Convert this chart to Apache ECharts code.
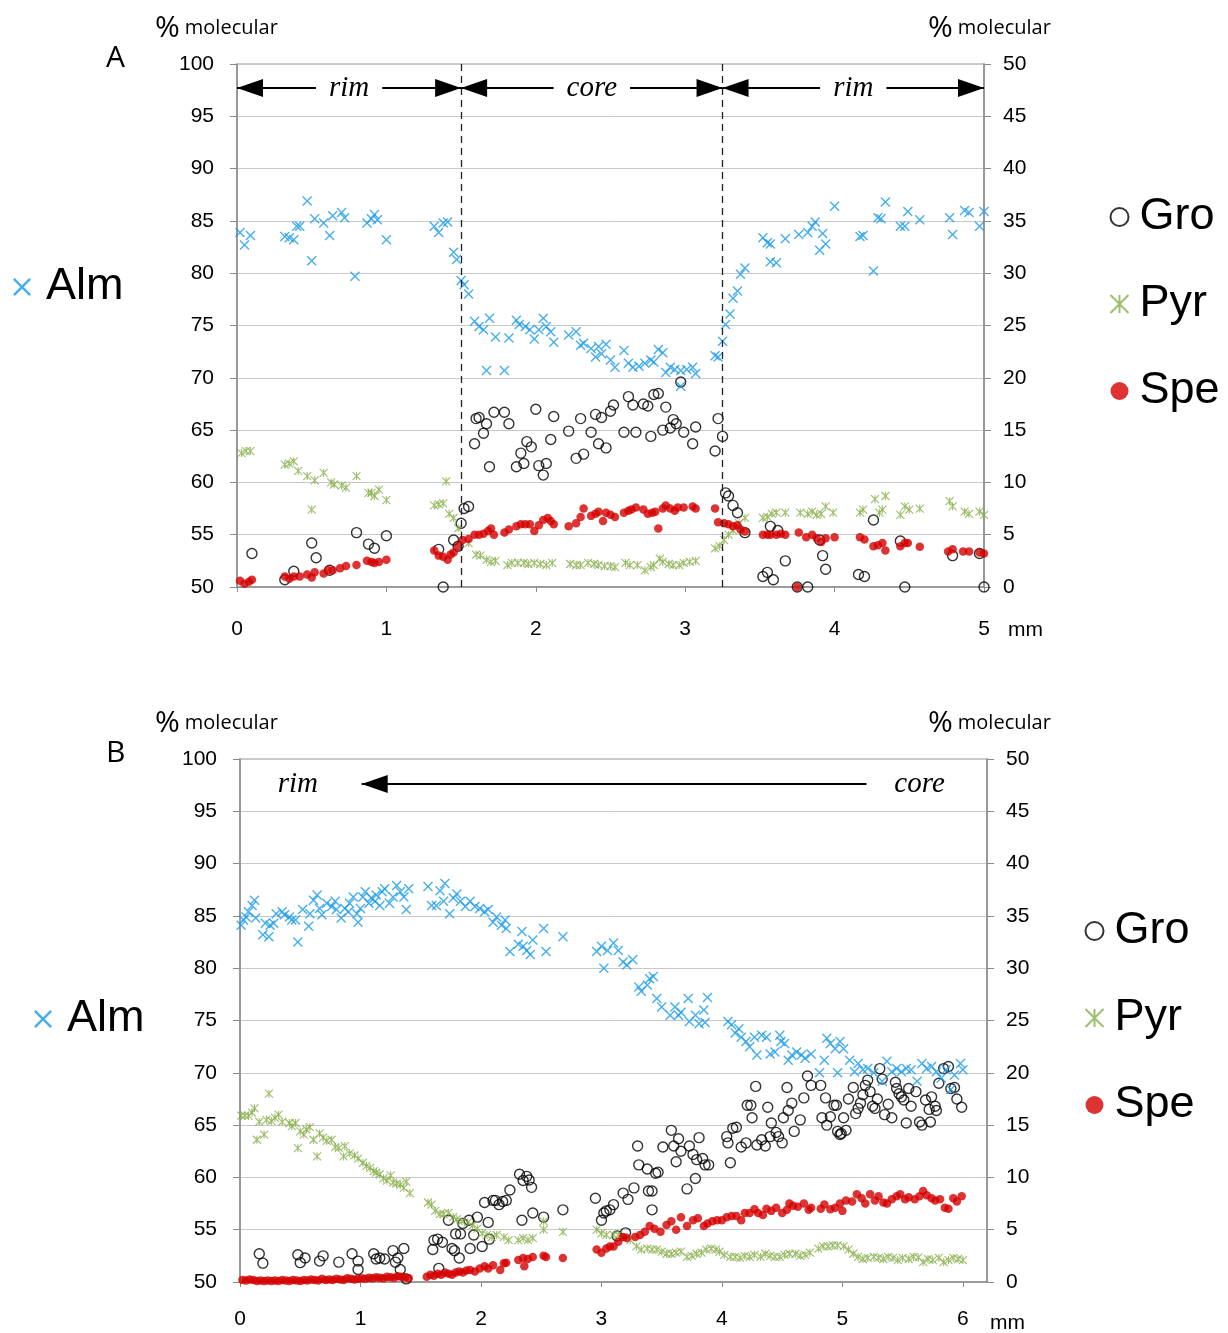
<!DOCTYPE html>
<html>
<head>
<meta charset="utf-8">
<script src="https://cdn.jsdelivr.net/npm/echarts@6/dist/echarts.min.js"></script>
<style>html,body{margin:0;padding:0;background:#fff}#c{width:1228px;height:1333px}</style>
</head>
<body>
<div id="c"></div>
<script>
// ---------- DATA (x in mm; Alm on left axis %, Gro/Pyr/Spe on right axis %) ----------
const xTicksA = [0, 1, 2, 3, 4, 5];
const xTicksB = [0, 1, 2, 3, 4, 5, 6];
const zoneBoundsA = [1.5, 3.25];

const almA = [[0.02,83.9],[0.05,82.7],[0.09,83.6],[0.32,83.5],[0.35,83.4],[0.38,83.2],[0.40,84.5],[0.42,84.5],[0.47,86.9],[0.50,81.2],[0.52,85.2],[0.58,84.8],[0.62,83.6],[0.64,85.5],[0.70,85.8],[0.72,85.3],[0.79,79.7],[0.87,84.8],[0.90,85.2],[0.92,85.6],[0.94,85.1],[1.00,83.2],[1.32,84.5],[1.35,83.9],[1.38,84.8],[1.41,84.9],[1.45,82.0],[1.47,81.3],[1.50,79.3],[1.52,78.9],[1.55,78.0],[1.59,75.4],[1.62,74.9],[1.65,74.6],[1.67,70.7],[1.69,75.7],[1.73,73.9],[1.79,70.7],[1.82,73.8],[1.87,75.5],[1.89,75.1],[1.93,74.9],[1.96,74.6],[1.99,73.7],[2.02,74.6],[2.05,75.7],[2.07,74.9],[2.10,74.4],[2.12,73.4],[2.22,74.1],[2.27,74.4],[2.30,73.1],[2.32,73.3],[2.37,72.8],[2.40,72.0],[2.42,73.0],[2.44,72.3],[2.47,73.2],[2.50,71.7],[2.53,71.0],[2.59,72.6],[2.62,71.4],[2.65,71.0],[2.69,71.1],[2.73,71.4],[2.77,71.7],[2.79,71.5],[2.82,72.7],[2.85,72.4],[2.87,70.5],[2.90,71.0],[2.93,70.8],[2.97,70.7],[2.97,69.2],[3.01,70.8],[3.05,71.0],[3.07,70.4],[3.20,72.1],[3.22,72.0],[3.25,73.5],[3.27,75.1],[3.30,76.1],[3.32,77.6],[3.35,78.3],[3.37,79.9],[3.40,80.5],[3.52,83.4],[3.55,82.9],[3.57,82.8],[3.57,81.1],[3.61,81.0],[3.67,83.3],[3.76,83.7],[3.82,83.9],[3.85,84.5],[3.87,84.9],[3.90,82.2],[3.92,83.8],[3.94,82.8],[4.00,86.4],[4.17,83.5],[4.19,83.6],[4.26,80.2],[4.29,85.3],[4.31,85.2],[4.34,86.8],[4.44,84.5],[4.47,84.5],[4.49,85.9],[4.57,85.1],[4.77,85.3],[4.79,83.7],[4.87,86.0],[4.90,85.8],[4.97,84.5],[5.00,85.9]];

const groA = [[0.10,3.2],[0.32,0.7],[0.38,1.5],[0.50,4.2],[0.53,2.8],[0.62,1.6],[0.80,5.2],[0.88,4.1],[0.92,3.7],[1.00,4.9],[1.35,3.6],[1.38,0.0],[1.45,4.5],[1.48,3.9],[1.50,6.1],[1.52,7.5],[1.55,7.7],[1.59,13.7],[1.60,16.1],[1.62,16.2],[1.65,14.7],[1.67,15.6],[1.69,11.5],[1.72,16.7],[1.79,16.7],[1.82,15.6],[1.87,11.5],[1.90,12.8],[1.92,11.8],[1.94,13.9],[1.97,13.4],[2.00,17.0],[2.02,11.6],[2.05,10.7],[2.07,11.8],[2.10,14.1],[2.12,16.3],[2.22,14.9],[2.27,12.3],[2.30,16.1],[2.32,12.7],[2.37,14.8],[2.40,16.5],[2.42,13.7],[2.44,16.2],[2.47,13.3],[2.50,16.8],[2.52,17.4],[2.59,14.8],[2.62,18.2],[2.65,17.4],[2.67,14.8],[2.72,17.5],[2.75,17.3],[2.77,14.4],[2.79,18.4],[2.82,18.5],[2.85,15.0],[2.87,17.2],[2.90,15.2],[2.92,16.0],[2.94,15.6],[2.97,19.6],[2.99,14.8],[3.05,13.7],[3.07,15.3],[3.20,13.0],[3.22,16.1],[3.25,14.4],[3.27,9.0],[3.29,8.7],[3.32,7.8],[3.35,7.1],[3.40,5.2],[3.52,1.0],[3.55,1.4],[3.57,5.8],[3.59,0.7],[3.62,5.4],[3.67,2.5],[3.75,0.0],[3.82,0.0],[3.90,4.5],[3.92,3.0],[3.94,1.7],[4.16,1.2],[4.20,1.0],[4.26,6.4],[4.44,4.4],[4.47,0.0],[4.79,3.0],[4.97,3.2],[5.00,0.0]];

const pyrA = [[0.03,12.8],[0.06,13.0],[0.09,13.0],[0.32,11.7],[0.35,11.8],[0.38,12.0],[0.41,11.1],[0.47,10.6],[0.50,7.4],[0.52,10.2],[0.58,10.9],[0.63,10.0],[0.65,9.8],[0.70,9.7],[0.73,9.5],[0.80,10.6],[0.88,9.0],[0.90,9.0],[0.92,8.7],[0.95,9.3],[1.00,8.3],[1.32,7.8],[1.35,7.9],[1.38,8.0],[1.40,10.1],[1.42,7.0],[1.45,6.6],[1.48,5.6],[1.55,4.2],[1.60,3.1],[1.63,3.0],[1.67,2.6],[1.70,2.4],[1.73,2.5],[1.81,2.1],[1.84,2.3],[1.88,2.3],[1.92,2.3],[1.95,2.2],[1.99,2.3],[2.03,2.2],[2.07,2.1],[2.11,2.3],[2.23,2.2],[2.27,2.1],[2.30,2.1],[2.35,2.3],[2.39,2.2],[2.42,2.1],[2.46,2.0],[2.50,2.0],[2.53,1.9],[2.60,2.3],[2.63,2.1],[2.68,2.1],[2.73,1.6],[2.77,1.9],[2.79,2.1],[2.83,2.7],[2.85,2.4],[2.89,2.2],[2.92,2.1],[2.96,2.1],[2.99,2.3],[3.03,2.4],[3.07,2.5],[3.20,3.7],[3.23,3.9],[3.26,4.5],[3.29,5.0],[3.32,5.4],[3.36,6.1],[3.40,6.6],[3.52,6.6],[3.55,6.7],[3.58,7.0],[3.61,7.1],[3.67,7.1],[3.77,7.1],[3.82,7.0],[3.85,7.2],[3.88,6.9],[3.91,7.0],[3.94,7.7],[3.99,7.1],[4.17,7.1],[4.19,7.4],[4.27,8.4],[4.30,7.1],[4.32,7.4],[4.34,8.7],[4.44,6.9],[4.47,7.7],[4.50,7.4],[4.57,7.5],[4.77,8.2],[4.79,7.7],[4.87,7.2],[4.90,7.0],[4.97,7.2],[5.00,6.9]];

const speA = [[0.02,0.6],[0.05,0.3],[0.08,0.5],[0.10,0.7],[0.32,1.0],[0.35,0.8],[0.38,1.0],[0.42,1.0],[0.47,1.2],[0.50,0.9],[0.52,1.4],[0.58,1.3],[0.61,1.6],[0.64,1.6],[0.69,1.8],[0.73,2.0],[0.80,2.1],[0.87,2.5],[0.90,2.4],[0.92,2.3],[0.95,2.4],[1.00,2.6],[1.32,3.5],[1.35,3.0],[1.38,2.9],[1.41,2.6],[1.43,3.1],[1.45,3.3],[1.48,3.9],[1.51,4.5],[1.55,4.6],[1.59,5.0],[1.62,5.0],[1.65,5.1],[1.68,5.35],[1.70,5.6],[1.72,5.0],[1.79,5.2],[1.82,5.5],[1.87,5.8],[1.90,6.0],[1.93,6.0],[1.96,6.0],[1.99,5.35],[2.02,5.9],[2.05,6.4],[2.08,6.6],[2.10,6.3],[2.12,6.0],[2.22,5.8],[2.27,6.1],[2.30,6.7],[2.32,7.5],[2.37,6.8],[2.40,7.0],[2.42,7.2],[2.45,6.3],[2.47,7.1],[2.50,6.9],[2.53,6.7],[2.59,7.1],[2.62,7.3],[2.64,7.4],[2.67,7.6],[2.72,7.4],[2.75,7.0],[2.78,7.1],[2.80,7.2],[2.82,5.6],[2.85,7.5],[2.87,7.8],[2.90,7.5],[2.93,7.3],[2.95,7.6],[2.99,7.6],[3.05,7.7],[3.07,7.5],[3.20,7.5],[3.22,6.2],[3.26,6.1],[3.29,6.0],[3.32,5.8],[3.35,5.9],[3.37,5.5],[3.40,5.3],[3.52,5.0],[3.55,5.0],[3.57,5.0],[3.61,5.0],[3.64,5.1],[3.67,5.0],[3.75,0.0],[3.76,5.2],[3.81,4.75],[3.85,5.0],[3.88,4.65],[3.91,4.3],[3.94,4.65],[4.00,4.75],[4.17,4.75],[4.20,4.55],[4.26,3.9],[4.29,4.0],[4.32,4.2],[4.34,3.5],[4.44,3.9],[4.47,4.2],[4.49,4.2],[4.57,3.85],[4.76,3.4],[4.79,3.6],[4.86,3.4],[4.90,3.4],[4.97,3.3],[5.00,3.2]];

const almB = [[0.01,84.1],[0.03,84.6],[0.05,84.9],[0.07,85.4],[0.10,86.0],[0.12,86.5],[0.13,84.8],[0.19,83.2],[0.21,84.3],[0.24,83.0],[0.25,84.1],[0.28,84.3],[0.30,85.2],[0.35,85.4],[0.37,85.1],[0.41,84.9],[0.43,84.6],[0.46,84.6],[0.48,82.5],[0.52,85.6],[0.57,84.0],[0.58,85.2],[0.61,86.5],[0.64,87.0],[0.66,85.7],[0.68,85.1],[0.72,86.2],[0.76,85.9],[0.79,86.4],[0.80,85.6],[0.84,84.8],[0.87,85.7],[0.90,85.4],[0.91,86.2],[0.94,86.8],[0.97,85.2],[0.98,84.4],[1.00,85.7],[1.02,86.8],[1.04,87.3],[1.07,86.2],[1.09,86.7],[1.12,86.4],[1.13,87.0],[1.16,86.0],[1.18,87.3],[1.20,87.6],[1.24,86.2],[1.27,86.8],[1.30,87.9],[1.33,87.3],[1.36,86.8],[1.38,85.6],[1.40,87.6],[1.56,87.8],[1.59,86.0],[1.63,86.0],[1.66,87.4],[1.69,86.4],[1.70,88.1],[1.74,85.2],[1.77,86.7],[1.80,87.1],[1.83,86.4],[1.87,85.9],[1.91,86.4],[1.95,85.9],[1.99,85.7],[2.03,85.4],[2.06,85.6],[2.10,84.4],[2.13,84.9],[2.17,84.1],[2.20,84.6],[2.21,83.8],[2.24,81.6],[2.31,82.3],[2.34,83.5],[2.35,82.1],[2.38,81.7],[2.41,81.3],[2.43,82.7],[2.52,83.8],[2.54,81.6],[2.68,83.0],[2.96,81.6],[3.00,82.1],[3.02,80.0],[3.05,81.7],[3.10,82.4],[3.14,81.7],[3.18,80.6],[3.21,80.3],[3.26,80.8],[3.31,78.2],[3.33,77.8],[3.38,78.4],[3.40,79.0],[3.43,79.2],[3.46,77.1],[3.50,76.3],[3.57,75.5],[3.61,76.3],[3.64,75.5],[3.66,75.8],[3.72,77.1],[3.73,74.9],[3.78,75.5],[3.81,74.7],[3.85,76.0],[3.86,74.8],[3.88,77.2],[4.05,74.9],[4.08,74.6],[4.11,73.8],[4.14,74.2],[4.16,73.4],[4.20,73.0],[4.23,72.5],[4.27,73.4],[4.29,71.7],[4.33,73.6],[4.37,73.4],[4.40,71.8],[4.44,72.0],[4.48,73.6],[4.49,73.0],[4.52,72.8],[4.55,71.2],[4.58,71.7],[4.62,72.0],[4.66,71.7],[4.69,71.4],[4.74,71.8],[4.81,70.0],[4.85,71.2],[4.87,73.3],[4.90,72.8],[4.94,72.3],[4.96,70.0],[4.98,73.0],[5.01,72.3],[5.06,71.2],[5.10,70.1],[5.13,70.9],[5.17,70.3],[5.21,70.4],[5.26,70.0],[5.33,69.2],[5.37,71.1],[5.41,70.1],[5.45,70.4],[5.49,70.1],[5.53,70.4],[5.57,70.3],[5.62,69.2],[5.66,70.9],[5.70,70.4],[5.74,70.6],[5.78,70.1],[5.82,69.5],[5.86,70.3],[5.90,68.4],[5.93,69.8],[5.98,70.9],[6.00,70.3]];

const groB = [[0.16,2.7],[0.19,1.8],[0.48,2.6],[0.50,1.85],[0.54,2.3],[0.66,2.0],[0.69,2.5],[0.82,1.9],[0.93,2.7],[0.98,2.0],[0.98,1.2],[1.11,2.7],[1.13,2.2],[1.16,2.3],[1.20,2.2],[1.27,3.0],[1.29,1.9],[1.31,2.3],[1.33,1.2],[1.36,3.2],[1.38,0.3],[1.60,3.1],[1.61,4.0],[1.64,4.1],[1.65,1.3],[1.68,3.8],[1.73,5.9],[1.76,3.2],[1.78,3.0],[1.79,4.6],[1.82,2.3],[1.83,4.6],[1.85,5.6],[1.90,5.9],[1.91,3.2],[1.94,4.5],[1.97,6.2],[2.01,3.4],[2.03,7.6],[2.06,5.7],[2.07,4.1],[2.10,7.8],[2.12,7.8],[2.15,7.4],[2.18,7.7],[2.21,7.8],[2.24,8.8],[2.32,10.3],[2.34,5.9],[2.35,9.7],[2.38,10.1],[2.40,9.75],[2.42,9.05],[2.43,6.6],[2.52,6.2],[2.68,6.9],[2.95,8.0],[3.00,5.9],[3.02,6.6],[3.04,6.8],[3.07,6.9],[3.10,7.4],[3.13,4.4],[3.18,8.5],[3.20,4.7],[3.22,7.9],[3.27,9.0],[3.30,13.0],[3.31,11.2],[3.38,10.8],[3.39,8.7],[3.42,8.7],[3.42,6.9],[3.45,10.4],[3.47,10.5],[3.51,12.9],[3.58,14.5],[3.60,13.0],[3.62,11.5],[3.64,13.7],[3.66,12.5],[3.71,8.9],[3.73,13.0],[3.76,12.2],[3.78,9.9],[3.79,11.7],[3.81,13.8],[3.84,11.8],[3.86,11.2],[3.89,11.2],[4.04,13.9],[4.05,13.3],[4.07,11.4],[4.09,14.7],[4.12,14.8],[4.16,12.9],[4.20,13.3],[4.21,16.9],[4.24,16.9],[4.25,15.7],[4.28,18.7],[4.29,13.1],[4.33,13.6],[4.36,13.0],[4.38,16.7],[4.40,13.9],[4.41,15.2],[4.45,14.3],[4.47,13.9],[4.50,13.3],[4.51,15.7],[4.54,18.6],[4.55,16.4],[4.58,17.1],[4.60,14.4],[4.65,15.5],[4.68,17.6],[4.71,19.7],[4.74,18.8],[4.82,18.8],[4.83,15.7],[4.86,17.6],[4.87,15.0],[4.90,15.8],[4.93,16.9],[4.95,16.9],[4.96,14.4],[4.98,14.1],[4.99,14.2],[5.01,15.7],[5.03,14.5],[5.05,17.5],[5.09,18.6],[5.11,16.1],[5.13,16.6],[5.15,17.1],[5.17,17.9],[5.19,18.8],[5.21,19.3],[5.23,18.2],[5.25,16.8],[5.27,16.6],[5.29,17.5],[5.31,20.4],[5.33,19.4],[5.35,16.0],[5.38,17.0],[5.41,15.7],[5.44,19.1],[5.45,18.5],[5.47,18.0],[5.49,17.7],[5.51,17.4],[5.53,15.2],[5.55,18.5],[5.57,16.8],[5.61,18.2],[5.64,15.3],[5.66,15.0],[5.69,17.4],[5.72,16.5],[5.73,15.3],[5.74,17.7],[5.77,16.8],[5.78,16.4],[5.80,19.0],[5.84,20.4],[5.88,20.6],[5.90,18.5],[5.93,18.6],[5.95,17.5],[5.99,16.7]];

const pyrB = [[0.01,15.9],[0.04,15.9],[0.07,15.9],[0.10,16.2],[0.12,16.6],[0.14,13.6],[0.16,15.3],[0.20,14.1],[0.22,15.5],[0.24,18.0],[0.26,15.4],[0.29,15.7],[0.32,16.0],[0.35,15.3],[0.41,15.2],[0.43,14.9],[0.46,15.2],[0.48,12.8],[0.50,14.4],[0.53,14.1],[0.55,14.6],[0.58,14.8],[0.61,13.6],[0.64,12.0],[0.66,14.2],[0.69,13.8],[0.72,13.5],[0.76,13.6],[0.79,12.9],[0.82,12.8],[0.86,12.0],[0.87,13.0],[0.91,12.3],[0.95,12.1],[0.98,11.8],[1.02,11.4],[1.05,11.1],[1.08,10.9],[1.11,10.6],[1.13,10.45],[1.16,10.3],[1.19,9.9],[1.22,9.7],[1.25,10.2],[1.27,9.5],[1.30,9.4],[1.33,9.3],[1.36,9.0],[1.38,9.6],[1.41,8.5],[1.56,7.6],[1.59,7.4],[1.62,6.8],[1.66,6.5],[1.69,6.5],[1.73,6.6],[1.77,6.2],[1.80,6.0],[1.84,5.8],[1.89,5.7],[1.93,5.4],[1.97,5.1],[2.01,4.65],[2.05,4.5],[2.09,4.3],[2.13,4.5],[2.19,4.3],[2.23,4.0],[2.31,4.0],[2.35,4.2],[2.39,4.0],[2.43,4.2],[2.52,5.0],[2.52,5.8],[2.68,4.8],[2.96,5.0],[3.00,4.65],[3.04,4.5],[3.10,4.5],[3.14,4.5],[3.18,4.3],[3.24,4.0],[3.29,3.4],[3.33,3.1],[3.38,3.2],[3.42,3.1],[3.46,3.1],[3.50,2.9],[3.54,2.7],[3.58,2.7],[3.62,2.8],[3.66,2.9],[3.71,2.4],[3.75,2.5],[3.79,2.7],[3.83,2.8],[3.87,3.1],[3.91,3.2],[3.95,3.1],[3.98,2.9],[4.02,2.6],[4.07,2.4],[4.11,2.4],[4.15,2.3],[4.19,2.5],[4.23,2.4],[4.27,2.6],[4.32,2.4],[4.36,2.7],[4.40,2.5],[4.44,2.4],[4.48,2.4],[4.52,2.6],[4.56,2.7],[4.61,2.7],[4.65,2.5],[4.69,2.6],[4.73,2.8],[4.80,3.2],[4.84,3.4],[4.88,3.4],[4.92,3.5],[4.96,3.5],[5.01,3.4],[5.05,3.1],[5.09,2.7],[5.13,2.4],[5.17,2.2],[5.21,2.3],[5.26,2.4],[5.30,2.3],[5.34,2.2],[5.38,2.4],[5.42,2.3],[5.46,2.1],[5.50,2.3],[5.55,2.2],[5.59,2.4],[5.63,2.35],[5.67,1.9],[5.71,2.2],[5.75,2.1],[5.80,2.3],[5.84,1.9],[5.88,2.1],[5.92,2.3],[5.96,2.2],[6.00,2.1]];

const speB = [[0.02,0.2],[0.05,0.15],[0.08,0.25],[0.11,0.2],[0.14,0.1],[0.17,0.15],[0.20,0.1],[0.23,0.15],[0.26,0.1],[0.29,0.15],[0.32,0.1],[0.35,0.2],[0.38,0.15],[0.41,0.1],[0.44,0.2],[0.47,0.15],[0.50,0.1],[0.53,0.2],[0.56,0.15],[0.59,0.25],[0.62,0.2],[0.65,0.15],[0.68,0.3],[0.71,0.2],[0.74,0.25],[0.77,0.2],[0.80,0.3],[0.83,0.25],[0.86,0.2],[0.89,0.35],[0.92,0.3],[0.95,0.25],[0.98,0.3],[1.01,0.35],[1.04,0.3],[1.07,0.4],[1.10,0.35],[1.13,0.45],[1.16,0.4],[1.19,0.35],[1.22,0.5],[1.25,0.45],[1.28,0.4],[1.31,0.55],[1.34,0.5],[1.37,0.45],[1.40,0.35],[1.55,0.5],[1.58,0.7],[1.61,0.6],[1.64,0.8],[1.67,0.7],[1.70,0.9],[1.73,0.8],[1.76,0.7],[1.79,0.9],[1.82,1.0],[1.85,0.9],[1.88,1.1],[1.91,1.15],[1.95,1.0],[1.99,1.3],[2.03,1.5],[2.06,1.3],[2.10,1.6],[2.16,1.15],[2.19,1.8],[2.21,1.85],[2.31,2.1],[2.35,2.3],[2.36,1.5],[2.39,2.2],[2.43,2.4],[2.52,2.5],[2.54,2.4],[2.68,2.3],[2.96,3.1],[3.00,2.8],[3.04,3.2],[3.07,3.4],[3.10,3.4],[3.14,3.85],[3.18,4.3],[3.21,4.2],[3.28,4.3],[3.32,4.5],[3.36,4.8],[3.40,5.35],[3.44,5.1],[3.49,4.8],[3.54,5.45],[3.58,5.8],[3.62,5.0],[3.66,6.2],[3.71,5.35],[3.76,5.9],[3.80,6.1],[3.85,5.35],[3.88,5.6],[3.92,5.8],[3.96,5.9],[4.00,5.9],[4.04,6.2],[4.08,6.3],[4.12,6.3],[4.16,5.9],[4.19,6.6],[4.23,6.6],[4.27,6.95],[4.30,6.6],[4.34,6.4],[4.37,7.0],[4.41,6.8],[4.45,7.1],[4.50,6.6],[4.54,6.9],[4.56,7.5],[4.59,7.3],[4.63,7.2],[4.68,7.5],[4.72,6.9],[4.74,7.1],[4.82,7.0],[4.85,7.4],[4.90,6.95],[4.94,7.1],[4.98,7.5],[5.00,6.8],[5.03,7.8],[5.08,7.7],[5.12,8.4],[5.16,8.0],[5.19,7.5],[5.23,8.4],[5.27,7.8],[5.30,8.2],[5.34,7.6],[5.37,7.5],[5.41,7.9],[5.45,8.2],[5.48,8.4],[5.52,7.9],[5.55,8.1],[5.60,7.9],[5.64,8.2],[5.67,8.7],[5.70,8.3],[5.74,8.0],[5.77,7.8],[5.81,7.9],[5.85,7.1],[5.88,7.0],[5.92,8.0],[5.95,7.7],[5.99,8.2]];

// ---------- STYLE ----------
const C_ALM = '#1A9BE8', C_PYR = '#86AE48', C_SPE = '#D40000', C_GRO = '#000000';
const X_PATH = 'path://M1,0L5,4L9,0L10,1L6,5L10,9L9,10L5,6L1,10L0,9L4,5L0,1Z';
const AST_PATH = 'path://M0,0L10,10M10,0L0,10M5,0L5,10';
const SANS = '"Liberation Sans", Arial, sans-serif';
const SERIF = '"Liberation Serif", "Times New Roman", serif';
const OPEN = '"Open Sans", sans-serif';
const AXC = '#8a8a8a';

function xAxisCfg(grid, max, margin) {
  return {
    gridIndex: grid, type: 'value', min: 0, max: max, interval: 1,
    axisLine: {show: true, onZero: false, lineStyle: {color: AXC, width: 1.5}},
    axisTick: {show: true, inside: false, length: 5, lineStyle: {color: AXC}},
    axisLabel: {margin: margin, fontSize: 21, color: '#000', fontFamily: SANS, showMaxLabel: max === 5},
    splitLine: {show: false}
  };
}
function yAxisCfg(grid, min, max, pos) {
  const left = pos === 'left';
  return {
    gridIndex: grid, type: 'value', min: min, max: max, interval: 5, position: pos,
    axisLine: {show: true, onZero: false, lineStyle: {color: AXC, width: 1.5}},
    axisTick: {show: true, inside: false, length: 7, lineStyle: {color: AXC}},
    axisLabel: {margin: left ? 23 : 19, fontSize: 21, color: '#000', fontFamily: SANS},
    splitLine: {show: left, lineStyle: {color: '#c8c8c8', width: 1}}
  };
}
function sc(name, data, xi, yi, extra) {
  const base = {name: name, type: 'scatter', data: data, xAxisIndex: xi, yAxisIndex: yi, silent: true};
  if (name === 'Alm') Object.assign(base, {symbol: X_PATH, symbolSize: 10, itemStyle: {color: C_ALM}});
  if (name === 'Gro') Object.assign(base, {symbol: 'circle', symbolSize: 10, itemStyle: {color: 'rgba(0,0,0,0)', borderColor: C_GRO, borderWidth: 1.4}});
  if (name === 'Pyr') Object.assign(base, {symbol: AST_PATH, symbolSize: 8, itemStyle: {color: 'none', borderColor: C_PYR, borderWidth: 1.1}});
  if (name === 'Spe') Object.assign(base, {symbol: 'circle', symbolSize: 8.5, itemStyle: {color: C_SPE}});
  return Object.assign(base, extra || {});
}

const arrowLabel = (txt) => ({
  show: true, position: 'insideMiddle', formatter: txt, color: '#000',
  fontFamily: SERIF, fontStyle: 'italic', fontSize: 29,
  backgroundColor: '#fff', padding: [0, 13]
});
const ARROW_Y_A = 97.7, ARROW_Y_B = 97.6;
const arrowEnd = {symbol: 'triangle', symbolSize: [18, 26], symbolOffset: [0, 13]};

const markLineA = {
  silent: true, symbol: ['none', 'none'], animation: false,
  lineStyle: {color: '#000', width: 2, type: 'solid'},
  label: {show: false},
  data: [
    {xAxis: zoneBoundsA[0], lineStyle: {type: [7, 5], width: 1.3, color: '#222'}, symbol: 'none'},
    {xAxis: zoneBoundsA[1], lineStyle: {type: [7, 5], width: 1.3, color: '#222'}, symbol: 'none'},
    [Object.assign({coord: [0, ARROW_Y_A], label: arrowLabel('rim')}, arrowEnd), Object.assign({coord: [zoneBoundsA[0], ARROW_Y_A]}, arrowEnd)],
    [Object.assign({coord: [zoneBoundsA[0], ARROW_Y_A], label: arrowLabel('core')}, arrowEnd), Object.assign({coord: [zoneBoundsA[1], ARROW_Y_A]}, arrowEnd)],
    [Object.assign({coord: [zoneBoundsA[1], ARROW_Y_A], label: arrowLabel('rim')}, arrowEnd), Object.assign({coord: [5, ARROW_Y_A]}, arrowEnd)]
  ]
};
const markLineB = {
  silent: true, symbol: ['none', 'none'], animation: false,
  lineStyle: {color: '#000', width: 2, type: 'solid'},
  label: {show: false},
  data: [[{coord: [5.2, ARROW_Y_B], symbol: 'none'}, Object.assign({coord: [1.01, ARROW_Y_B]}, arrowEnd)]]
};
const markPointB = {
  silent: true, animation: false, symbol: 'rect', symbolSize: 1,
  itemStyle: {color: 'rgba(0,0,0,0)'},
  label: {show: true, position: 'inside', formatter: '{b}', color: '#000', fontFamily: SERIF, fontStyle: 'italic', fontSize: 29},
  data: [{name: 'rim', coord: [0.48, ARROW_Y_B]}, {name: 'core', coord: [5.64, ARROW_Y_B]}]
};

const pctTitle = (left, top) => ({
  left: left, top: top, text: '{p|%} {m|molecular}',
  textStyle: {fontWeight: 'normal', rich: {
    p: {fontSize: 30, fontFamily: OPEN, fontWeight: 'normal', color: '#000'},
    m: {fontSize: 20, fontFamily: OPEN, fontWeight: 'normal', color: '#000'}}}
});
const plainTitle = (txt, left, top, size, fam) => ({left: left, top: top, text: txt, textStyle: {fontSize: size, fontWeight: 'normal', fontFamily: fam, color: '#000'}});

const legText = {fontSize: 45, fontFamily: SANS, color: '#000', lineHeight: 46};
const legendCommon = {orient: 'vertical', selectedMode: false, itemHeight: 18, padding: 0, textStyle: legText};

const option = {
  animation: false,
  backgroundColor: '#fff',
  title: [
    pctTitle(150, 8), pctTitle(923, 8),
    plainTitle('A', 101, 38, 30, OPEN),
    plainTitle('mm', 1003, 615, 21, SANS),
    pctTitle(150, 703), pctTitle(923, 703),
    plainTitle('B', 101, 733, 30, OPEN),
    plainTitle('mm', 985, 1308, 21, SANS)
  ],
  legend: [
    Object.assign({}, legendCommon, {data: ['Alm'], left: 13, top: 264, itemWidth: 38}),
    Object.assign({}, legendCommon, {data: ['Gro', 'Pyr', 'Spe'], left: 1108, top: 194, itemWidth: 30, itemGap: 41}),
    Object.assign({}, legendCommon, {data: ['Alm'], left: 34, top: 996, itemWidth: 38}),
    Object.assign({}, legendCommon, {data: ['Gro', 'Pyr', 'Spe'], left: 1083, top: 908, itemWidth: 30, itemGap: 41})
  ],
  grid: [
    {left: 237, top: 64, width: 747, height: 523, show: true, borderColor: '#9a9a9a', borderWidth: 1.2, backgroundColor: 'rgba(0,0,0,0)'},
    {left: 240, top: 759, width: 747, height: 523, show: true, borderColor: '#9a9a9a', borderWidth: 1.2, backgroundColor: 'rgba(0,0,0,0)'}
  ],
  xAxis: [xAxisCfg(0, 5, 32), xAxisCfg(1, 6.2, 27)],
  yAxis: [yAxisCfg(0, 50, 100, 'left'), yAxisCfg(0, 0, 50, 'right'), yAxisCfg(1, 50, 100, 'left'), yAxisCfg(1, 0, 50, 'right')],
  series: [
    sc('Gro', groA, 0, 1),
    sc('Pyr', pyrA, 0, 1),
    sc('Spe', speA, 0, 1),
    sc('Alm', almA, 0, 0, {markLine: markLineA}),
    sc('Gro', groB, 1, 3),
    sc('Pyr', pyrB, 1, 3),
    sc('Spe', speB, 1, 3),
    sc('Alm', almB, 1, 2, {markLine: markLineB, markPoint: markPointB})
  ]
};
const chart = echarts.init(document.getElementById('c'), null, {renderer: 'canvas'});
chart.setOption(option);
</script>
</body>
</html>
